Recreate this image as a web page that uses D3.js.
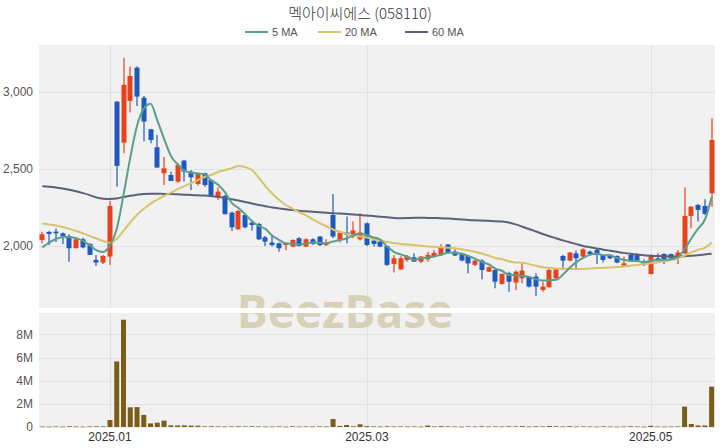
<!DOCTYPE html>
<html><head><meta charset="utf-8">
<script src="https://cdn.jsdelivr.net/npm/d3@7"></script>
<style>body{margin:0;background:#fff}svg{display:block}</style>
</head><body><svg id="c" width="720" height="448"></svg>
<script>
const title = "멕아이씨에스 (058110)";
const seriesNames = ["5 MA", "20 MA", "60 MA"];
const dates = [
"2024-12-16","2024-12-17","2024-12-18","2024-12-19","2024-12-20","2024-12-23","2024-12-24","2024-12-26","2024-12-27","2024-12-30",
"2025-01-02","2025-01-03","2025-01-06","2025-01-07","2025-01-08","2025-01-09","2025-01-10","2025-01-13","2025-01-14","2025-01-15",
"2025-01-16","2025-01-17","2025-01-20","2025-01-21","2025-01-22","2025-01-23","2025-01-24","2025-01-31","2025-02-03","2025-02-04",
"2025-02-05","2025-02-06","2025-02-07","2025-02-10","2025-02-11","2025-02-12","2025-02-13","2025-02-14","2025-02-17","2025-02-18",
"2025-02-19","2025-02-20","2025-02-21","2025-02-24","2025-02-25","2025-02-26","2025-02-27","2025-02-28","2025-03-04","2025-03-05",
"2025-03-06","2025-03-07","2025-03-10","2025-03-11","2025-03-12","2025-03-13","2025-03-14","2025-03-17","2025-03-18","2025-03-19",
"2025-03-20","2025-03-21","2025-03-24","2025-03-25","2025-03-26","2025-03-27","2025-03-28","2025-03-31","2025-04-01","2025-04-02",
"2025-04-03","2025-04-04","2025-04-07","2025-04-08","2025-04-09","2025-04-10","2025-04-11","2025-04-14","2025-04-15","2025-04-16",
"2025-04-17","2025-04-18","2025-04-21","2025-04-22","2025-04-23","2025-04-24","2025-04-25","2025-04-28","2025-04-29","2025-04-30",
"2025-05-02","2025-05-07","2025-05-08","2025-05-09","2025-05-12","2025-05-13","2025-05-14","2025-05-15","2025-05-16","2025-05-19"];
const open = [
2039,2091,2093,2082,2065,1985,2043,2013,1909,1892,
1931,2937,2671,2942,3158,2963,2758,2641,2472,2461,
2418,2554,2483,2403,2472,2429,2314,2325,2216,2108,
2201,2152,2143,2056,2022,2017,2006,1996,2050,1996,
2043,2061,2006,2201,2039,2087,2065,2043,2147,2035,
2028,2000,1883,1848,1909,1926,1898,1913,1931,1942,
2009,1963,1952,1935,1877,1905,1833,1844,1753,1823,
1762,1790,1801,1801,1714,1732,1790,1935,1905,1952,
1931,1963,1974,1942,1942,1935,1872,1942,1948,1898,
1818,1920,1948,1948,1920,1952,2195,2266,2260,2342];
const high = [
2093,2097,2113,2087,2076,2056,2054,2017,1942,1942,
2292,2940,3223,3165,3165,2974,2758,2721,2580,2483,
2537,2559,2494,2476,2476,2433,2381,2331,2223,2234,
2206,2158,2150,2065,2071,2022,2022,2043,2056,2050,
2050,2065,2043,2338,2093,2191,2158,2212,2152,2039,
2039,2000,1942,1935,1942,1952,1935,1963,1974,2013,
2013,1978,1955,1942,1913,1913,1866,1848,1823,1833,
1840,1887,1805,1823,1768,1855,1855,1942,1960,1970,
1985,1970,1985,1945,1945,1938,1931,1946,1950,1913,
1945,1952,1952,1950,1974,2379,2258,2273,2303,2829];
const low = [
2017,2006,2026,2013,1898,1985,1985,1942,1870,1883,
1877,2385,2602,2866,2909,2678,2667,2509,2396,2422,
2411,2418,2364,2392,2385,2320,2299,2206,2097,2104,
2115,2100,2039,2000,1996,1963,1974,1991,1996,1991,
2006,2000,2000,2050,2022,2017,2050,2035,2000,1996,
1992,1870,1827,1844,1898,1898,1887,1898,1926,1935,
1948,1935,1900,1823,1870,1784,1830,1725,1750,1703,
1714,1758,1730,1675,1703,1728,1786,1844,1900,1844,
1926,1940,1883,1892,1915,1888,1868,1900,1900,1870,
1815,1895,1883,1915,1883,1948,2115,2158,2201,2255];
const close = [
2076,2078,2082,2065,1985,2043,1991,1942,1892,1935,
2260,2520,3046,3104,2970,2808,2688,2509,2504,2422,
2526,2483,2446,2472,2396,2325,2353,2206,2121,2227,
2121,2136,2043,2028,2006,1985,2017,2039,2000,2043,
2013,2006,2022,2061,2087,2071,2100,2087,2006,2013,
1996,1877,1920,1920,1935,1898,1931,1942,1955,1990,
1955,1938,1905,1887,1905,1844,1862,1768,1818,1768,
1833,1840,1736,1736,1736,1844,1848,1905,1957,1920,
1978,1948,1942,1909,1920,1892,1887,1905,1905,1883,
1942,1905,1913,1920,1957,2195,2255,2234,2208,2688];
const volume = [
40000,30000,50000,30000,60000,40000,30000,50000,60000,50000,
600000,5660000,9270000,1700000,1720000,1040000,310000,370000,550000,140000,
130000,140000,120000,110000,50000,60000,50000,40000,50000,60000,
50000,60000,50000,40000,40000,50000,30000,60000,40000,50000,
40000,50000,40000,690000,90000,170000,60000,230000,80000,50000,
40000,60000,40000,50000,40000,50000,30000,120000,40000,70000,
50000,40000,30000,50000,40000,60000,40000,50000,40000,60000,
50000,70000,40000,60000,50000,80000,60000,40000,70000,40000,
50000,40000,30000,50000,40000,30000,40000,60000,40000,30000,
100000,40000,30000,40000,50000,1760000,260000,130000,130000,3490000];
const ma5 = [
1991,2022,2045,2058,2057,2051,2033,2005,1971,1961,
2004,2110,2331,2573,2780,2890,2923,2816,2696,2586,
2530,2489,2476,2470,2465,2424,2398,2350,2280,2246,
2206,2162,2130,2111,2067,2040,2016,2015,2009,2017,
2022,2020,2017,2029,2038,2049,2068,2081,2070,2055,
2040,1996,1962,1945,1930,1910,1921,1925,1932,1943,
1955,1956,1949,1935,1918,1896,1881,1853,1839,1812,
1810,1805,1799,1783,1776,1778,1780,1814,1858,1895,
1922,1942,1949,1939,1939,1922,1910,1903,1902,1894,
1904,1908,1910,1913,1927,1978,2048,2112,2170,2316];
const ma20 = [
2145,2140,2133,2123,2111,2097,2082,2065,2048,2031,
2020,2046,2098,2153,2201,2241,2275,2300,2325,2346,
2369,2389,2407,2427,2448,2462,2480,2493,2505,2519,
2512,2493,2443,2389,2341,2300,2266,2243,2218,2199,
2173,2149,2128,2107,2092,2079,2067,2061,2055,2044,
2038,2025,2019,2013,2010,2006,2001,1996,1994,1992,
1989,1985,1979,1971,1962,1950,1938,1922,1913,1901,
1893,1891,1882,1872,1862,1858,1854,1852,1851,1850,
1851,1853,1856,1858,1860,1863,1866,1872,1877,1882,
1888,1893,1900,1909,1920,1938,1958,1975,1988,2022];
const ma60 = [
2388,2385,2380,2373,2365,2355,2343,2330,2315,2307,
2305,2308,2318,2326,2333,2338,2339,2339,2338,2337,
2335,2333,2331,2329,2327,2323,2318,2312,2303,2295,
2285,2275,2266,2258,2250,2244,2238,2233,2229,2225,
2222,2219,2216,2213,2210,2207,2204,2201,2198,2194,
2190,2186,2182,2180,2181,2183,2183,2182,2181,2180,
2178,2175,2172,2169,2167,2165,2163,2161,2158,2152,
2140,2125,2110,2094,2078,2063,2050,2036,2024,2012,
2000,1992,1984,1976,1969,1962,1955,1949,1944,1940,
1936,1934,1933,1932,1932,1933,1936,1940,1945,1950];
const priceTicks = [2000, 2500, 3000];
const volTicks = [0, 2e6, 4e6, 6e6, 8e6];
const xTickDates = ["2025-01-02", "2025-03-04", "2025-05-02"];
const xTickLabels = ["2025.01", "2025.03", "2025.05"];

const colors = {up: "#e8421b", down: "#1e59c2", ma5: "#5a9e8b", ma20: "#d8c36a", ma60: "#5c6178",
  vol: "#7a5d18", bg: "#f1f1f1", grid: "#e1e1e1"};
const svg = d3.select("#c");
const font = "'Liberation Sans', Arial, sans-serif";
const L = 39, R = 715, pTop = 45, pBot = 308, vTop = 313, vBot = 428, vZero = 427;

const x = d3.scaleBand().domain(dates).range([L, R]).padding(0);
const bw = x.bandwidth();
const cx = d => x(d) + bw / 2;
const y = d3.scaleLinear().domain([1597, 3305]).range([pBot, pTop]);
const yv = d3.scaleLinear().domain([0, 9.85e6]).range([vZero, vTop]);

// panels
svg.append("rect").attr("x", L).attr("y", pTop).attr("width", R - L).attr("height", pBot - pTop).attr("fill", colors.bg);
svg.append("rect").attr("x", L).attr("y", vTop).attr("width", R - L).attr("height", vBot - vTop).attr("fill", colors.bg);

// grids
const g = svg.append("g");
g.selectAll(".hp").data(priceTicks).join("line").attr("x1", L).attr("x2", R)
  .attr("y1", d => Math.round(y(d)) + 0.5).attr("y2", d => Math.round(y(d)) + 0.5).attr("stroke", colors.grid);
g.selectAll(".hv").data(volTicks.slice(1)).join("line").attr("x1", L).attr("x2", R)
  .attr("y1", d => Math.round(yv(d)) + 0.5).attr("y2", d => Math.round(yv(d)) + 0.5).attr("stroke", colors.grid);
xTickDates.forEach(d => {
  const xx = Math.round(cx(d)) + 0.5;
  g.append("line").attr("x1", xx).attr("x2", xx).attr("y1", pTop).attr("y2", pBot).attr("stroke", colors.grid);
  g.append("line").attr("x1", xx).attr("x2", xx).attr("y1", vTop).attr("y2", vBot).attr("stroke", colors.grid);
});

// watermark
svg.append("text").attr("x", 345).attr("y", 328).attr("text-anchor", "middle")
  .attr("font-family", "'Open Sans', 'Liberation Sans', sans-serif").attr("font-weight", 700).attr("font-size", 46)
  .attr("fill", "#d7d1ba").text("BeezBase");
svg.append("rect").attr("x", L).attr("y", pBot).attr("width", R - L).attr("height", vTop - pBot).attr("fill", "#fff");

// axes labels
const yAxisP = d3.axisLeft(y).tickValues(priceTicks).tickSize(0).tickFormat(d3.format(","));
const ap = svg.append("g").attr("transform", `translate(${L - 3},0)`).call(yAxisP);
const yAxisV = d3.axisLeft(yv).tickValues(volTicks).tickSize(0).tickFormat(d => d === 0 ? "0" : (d / 1e6) + "M");
const av = svg.append("g").attr("transform", `translate(${L - 3},0)`).call(yAxisV);
const xAxis = d3.axisBottom(x).tickValues(xTickDates).tickSize(0).tickFormat((d, i) => xTickLabels[i]);
const ax = svg.append("g").attr("transform", `translate(0,${vBot})`).call(xAxis);
[ap, av, ax].forEach(a => {
  a.select(".domain").remove();
  a.selectAll("text").attr("font-family", font).attr("font-size", 12).attr("fill", "#555");
});
ax.selectAll("text").attr("fill", "#333").attr("dy", "0.71em").attr("y", 4);

// volume bars
svg.append("g").selectAll("rect").data(dates).join("rect")
  .attr("x", d => cx(d) - 2.5).attr("width", 5)
  .attr("y", (d, i) => yv(volume[i])).attr("height", (d, i) => Math.max(0.6, vZero - yv(volume[i])))
  .attr("fill", colors.vol);

// candles
const cg = svg.append("g");
dates.forEach((d, i) => {
  const up = close[i] >= open[i];
  const col = up ? colors.up : colors.down;
  const xc = Math.round(cx(d));
  cg.append("line").attr("x1", xc).attr("x2", xc).attr("y1", y(high[i])).attr("y2", y(low[i]))
    .attr("stroke", col).attr("stroke-width", 1.2);
  const top = y(Math.max(open[i], close[i])), bot = y(Math.min(open[i], close[i]));
  cg.append("rect").attr("x", xc - 2.5).attr("width", 5).attr("y", top).attr("height", Math.max(1.5, bot - top)).attr("fill", col);
});

// moving averages
const line = arr => d3.line().x((d, i) => cx(dates[i])).y(d => y(d)).curve(d3.curveMonotoneX)(arr);
[[ma60, colors.ma60], [ma20, colors.ma20], [ma5, colors.ma5]].forEach(([arr, col]) => {
  svg.append("path").attr("d", line(arr)).attr("fill", "none").attr("stroke", col).attr("stroke-width", 2);
});

// title and legend
svg.append("text").attr("x", 360).attr("y", 19).attr("text-anchor", "middle")
  .attr("font-family", "'Noto Sans CJK KR', 'Noto Sans', sans-serif").attr("font-weight", 300).attr("font-size", 15).attr("fill", "#333").text(title);
const legX = [245, 318, 405];
const legCols = [colors.ma5, colors.ma20, colors.ma60];
seriesNames.forEach((n, i) => {
  svg.append("line").attr("x1", legX[i]).attr("x2", legX[i] + 23).attr("y1", 32).attr("y2", 32)
    .attr("stroke", legCols[i]).attr("stroke-width", 2);
  svg.append("text").attr("x", legX[i] + 27).attr("y", 36).attr("font-family", font).attr("font-size", 11)
    .attr("fill", "#555").text(n);
});
</script></body></html>
